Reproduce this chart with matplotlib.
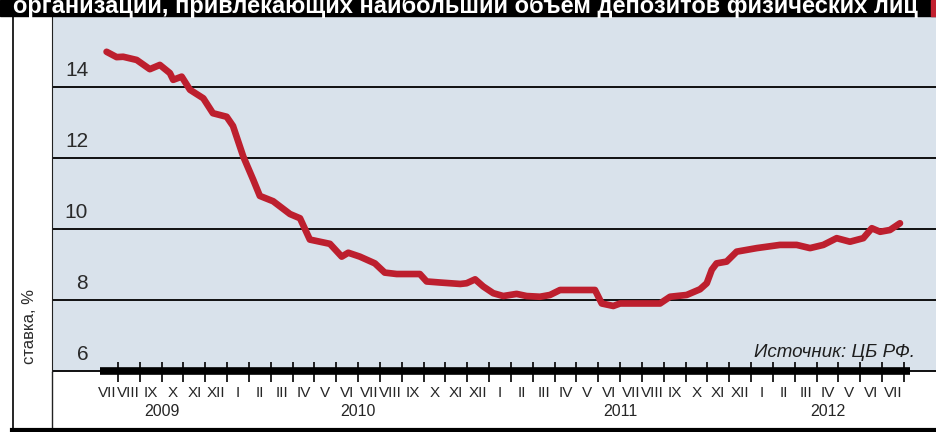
import matplotlib
matplotlib.use("Agg")
import matplotlib.pyplot as plt
from matplotlib.patches import Rectangle
from matplotlib.lines import Line2D

plt.rcParams['font.family'] = ['Liberation Sans', 'DejaVu Sans']

# months counted from 1 July 2009, rate in %
months = [0.48, 0.94, 1.24, 1.86, 2.46, 2.92, 3.38, 3.53, 3.92, 4.30, 4.91, 5.35,
          5.98, 6.27, 6.74, 7.20, 7.50, 8.11, 8.88, 9.34, 9.79, 10.25, 10.71,
          11.25, 11.55, 12.08, 12.77, 13.22, 13.77, 14.83, 15.14, 15.77, 16.68,
          16.97, 17.36, 17.73, 18.19, 18.65, 19.26, 19.72, 20.33, 20.79, 21.25,
          22.85, 23.16, 23.69, 24.00, 25.83, 26.29, 27.05, 27.66, 27.97, 28.20,
          28.42, 28.88, 29.34, 29.80, 30.26, 31.32, 32.09, 32.70, 33.31, 33.92,
          34.53, 35.14, 35.53, 35.91, 36.36, 36.82]
rates = [14.99, 14.84, 14.85, 14.76, 14.50, 14.62, 14.39, 14.20, 14.29, 13.92,
         13.68, 13.26, 13.16, 12.90, 12.04, 11.38, 10.93, 10.78, 10.42, 10.30,
         9.70, 9.64, 9.58, 9.22, 9.33, 9.22, 9.03, 8.77, 8.73, 8.73, 8.52, 8.49,
         8.45, 8.47, 8.58, 8.38, 8.19, 8.11, 8.17, 8.11, 8.09, 8.14, 8.28, 8.28,
         7.90, 7.83, 7.90, 7.90, 8.09, 8.14, 8.30, 8.47, 8.85, 9.03, 9.08, 9.36,
         9.41, 9.46, 9.55, 9.55, 9.46, 9.55, 9.74, 9.64, 9.74, 10.02, 9.92,
         9.97, 10.16]

month_labels = ['VII', 'VIII', 'IX', 'X', 'XI', 'XII',
                'I', 'II', 'III', 'IV', 'V', 'VI', 'VII', 'VIII', 'IX', 'X', 'XI', 'XII',
                'I', 'II', 'III', 'IV', 'V', 'VI', 'VII', 'VIII', 'IX', 'X', 'XI', 'XII',
                'I', 'II', 'III', 'IV', 'V', 'VI', 'VII']
years = ['2009', '2010', '2011', '2012']
year_span = [(0, 6), (6, 18), (18, 30), (30, 37)]
y_ticks = [6, 8, 10, 12, 14]

title = 'организаций, привлекающих наибольший объем депозитов физических лиц'
source = 'Источник: ЦБ РФ.'

W, H = 936, 432
fig = plt.figure(figsize=(W / 100, H / 100), dpi=100)
fig.patch.set_facecolor('white')

ax = fig.add_axes([52 / W, (H - 372) / H, 1 - 52 / W, (372 - 17) / H])
ax.set_facecolor('#d9e2eb')
ax.plot(months, rates, color='#bd1f2e', lw=4.8, solid_joinstyle='round',
        solid_capstyle='round', zorder=3)

ax.set_xlim(-2.02, 38.47)
ax.set_ylim(5.97, 15.97)

for v in y_ticks:
    ax.axhline(v, color='black', lw=1.3, zorder=2)
    ax.text(0.041, v + 0.2, str(v), transform=ax.get_yaxis_transform(),
            ha='right', va='bottom', fontsize=15, color='#2a2a2a')
ax.set_yticks([])

for s in ['top', 'right', 'bottom']:
    ax.spines[s].set_visible(False)
ax.spines['left'].set_color('#222222')

# black time bar with month ticks
ax.hlines(6, 0.17, 37.28, color='black', lw=5.5, clip_on=False, zorder=4)
ax.set_xticks(range(1, 38))
ax.tick_params(axis='x', which='major', direction='inout', length=15, width=1.2,
               color='black', labelbottom=False)
ax.set_xticks([m + 0.5 for m in range(len(month_labels))], minor=True)
ax.set_xticklabels(month_labels, minor=True, fontsize=11, color='#262626',
                   family=['Liberation Sans Narrow', 'Liberation Sans', 'DejaVu Sans'])
ax.tick_params(axis='x', which='minor', length=0, pad=10)

for name, (a, b) in zip(years, year_span):
    ax.text((a + b) / 2, -0.11, name, transform=ax.get_xaxis_transform(),
            ha='center', va='center', fontsize=11.5, color='#262626')

ax.text(0.976, 0.056, source, transform=ax.transAxes, ha='right', va='center',
        fontsize=13.5, style='italic', color='#1e1e1e')

fig.text(30 / W, (H - 327) / H, 'ставка, %', rotation=90, ha='center',
         va='center', fontsize=12, color='#2a2a2a')

# frame pieces
fig.patches.append(Rectangle((0, (H - 16) / H), 1, 16 / H, transform=fig.transFigure,
                             color='black', zorder=5))
fig.patches.append(Rectangle((931 / W, (H - 16) / H), 5 / W, 16 / H,
                             transform=fig.transFigure, color='#c1202f', zorder=6))
fig.lines.append(Line2D([12.5 / W, 12.5 / W], [0, (H - 16) / H], transform=fig.transFigure,
                        color='black', lw=1.2))
fig.lines.append(Line2D([52 / W, 52 / W], [0, (H - 372) / H], transform=fig.transFigure,
                        color='#222222', lw=1.0))
fig.lines.append(Line2D([12 / W, 1], [2 / H, 2 / H], transform=fig.transFigure,
                        color='black', lw=3))

# title strip: the top of the lettering is cut off in the original too
t = fig.text(13 / W, (H - 12.5) / H, title, ha='left', va='baseline', color='white',
             fontsize=18, fontweight='bold', zorder=7,
             family=['Liberation Sans Narrow', 'Liberation Sans', 'DejaVu Sans'])
fig.canvas.draw()
wpx = t.get_window_extent().width
t.set_fontsize(18 * 906 / wpx)

fig.savefig('out.png', dpi=100)
